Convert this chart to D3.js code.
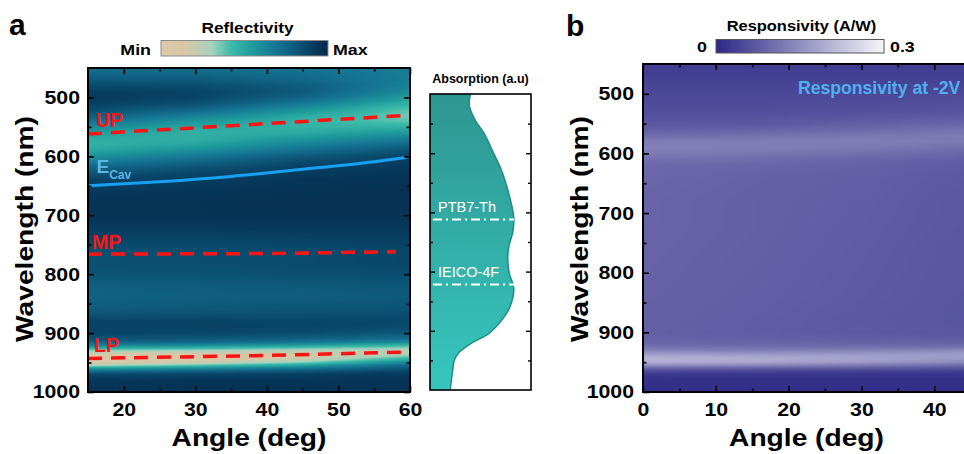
<!DOCTYPE html>
<html><head><meta charset="utf-8">
<script src="https://cdn.jsdelivr.net/npm/d3@7"></script>
<style>body{margin:0;background:#fff}svg{display:block}text{font-family:"Liberation Sans",Arial,sans-serif}</style>
</head><body><svg id="c" width="964" height="454"></svg>
<script>
// ---------------- DATA ----------------
// Panel a: reflectivity map (0 = Min, 1 = Max), rows = wavelength, columns = angle
const anglesA = [15, 30, 45, 60];
const wlA = [450,460,470,480,490,500,510,520,530,540,550,560,570,580,590,600,610,620,630,640,660,680,700,720,740,760,780,800,820,840,860,880,890,900,910,915,920,925,930,935,940,945,950,955,960,965,970,980,1000];
const reflA = [
 [.72,.72,.70,.66],[.75,.75,.72,.66],[.80,.80,.75,.66],[.86,.85,.79,.64],[.90,.88,.80,.60],
 [.92,.88,.76,.54],[.90,.84,.68,.46],[.86,.76,.58,.39],[.80,.66,.50,.35],[.72,.57,.45,.38],
 [.62,.50,.45,.46],[.54,.46,.49,.56],[.48,.47,.56,.66],[.46,.51,.64,.75],[.50,.59,.72,.83],
 [.58,.68,.80,.88],[.67,.76,.86,.91],[.76,.83,.90,.93],[.83,.88,.92,.94],[.88,.91,.94,.95],
 [.93,.94,.95,.96],[.95,.95,.96,.96],[.95,.95,.95,.95],[.92,.92,.93,.93],[.88,.88,.89,.90],
 [.84,.85,.86,.87],[.84,.85,.86,.87],[.82,.83,.84,.85],[.78,.79,.80,.81],[.77,.78,.79,.80],
 [.80,.81,.82,.83],[.88,.88,.88,.87],[.89,.89,.88,.85],[.88,.87,.85,.81],[.83,.81,.77,.71],
 [.77,.75,.70,.61],[.67,.63,.56,.46],[.50,.46,.39,.33],[.32,.29,.25,.26],[.16,.16,.18,.28],
 [.07,.09,.15,.37],[.05,.10,.21,.50],[.11,.20,.35,.63],[.30,.40,.53,.75],[.55,.62,.70,.82],
 [.74,.78,.82,.88],[.86,.88,.90,.92],[.93,.94,.94,.95],[.96,.96,.96,.96]
];
// polariton branches (red dashed) and cavity mode (blue)
const upAngles = [15, 35, 60], upWl = [562, 548, 530];
const mpAngles = [15, 40, 58], mpWl = [766, 765, 762];
const lpAngles = [15, 40, 60], lpWl = [943, 938, 932];
const cavAngles = [15, 25, 35, 45, 55, 59.5], cavWl = [650, 643, 634, 622, 609, 602];

// Absorption side panel
const absWl  = [500, 520, 545, 565, 600, 630, 665, 693, 710, 733, 758, 780, 803, 828, 860, 882, 905, 921, 938, 950, 966, 1000];
const absVal = [0.40,0.39,0.45,0.53,0.63,0.71,0.775,0.815,0.83,0.82,0.78,0.77,0.785,0.83,0.79,0.71,0.58,0.41,0.28,0.24,0.225,0.20];
const absMarkers = [{label:"PTB7-Th", wl:712}, {label:"IEICO-4F", wl:822}];

// Panel b: responsivity (A/W)
const anglesB = [0, 15, 30, 45, 60];
const wlB = [450,470,490,510,530,550,560,570,580,590,600,610,620,640,680,720,760,800,840,880,900,910,920,925,930,935,940,945,950,955,960,965,970,980,1000];
const respB = [
 [.030,.030,.030,.030,.030],[.035,.035,.035,.035,.035],[.045,.045,.045,.045,.045],[.050,.050,.050,.055,.055],
 [.055,.055,.060,.065,.070],[.070,.070,.080,.090,.100],[.080,.085,.095,.110,.115],[.100,.105,.115,.120,.120],
 [.125,.125,.125,.120,.110],[.130,.125,.120,.105,.095],[.120,.115,.105,.090,.080],[.105,.100,.090,.080,.072],
 [.095,.090,.085,.075,.070],[.090,.085,.080,.072,.068],[.088,.083,.078,.070,.065],[.088,.083,.077,.070,.064],
 [.087,.082,.076,.068,.063],[.086,.081,.075,.068,.063],[.085,.080,.074,.067,.062],[.083,.078,.072,.066,.062],
 [.082,.078,.073,.068,.064],[.085,.082,.078,.075,.072],[.095,.092,.090,.090,.095],[.110,.105,.105,.110,.120],
 [.130,.125,.130,.140,.150],[.160,.155,.155,.165,.170],[.190,.180,.175,.170,.165],[.205,.195,.180,.160,.145],
 [.195,.185,.165,.140,.120],[.150,.140,.120,.100,.090],[.090,.085,.075,.065,.060],[.050,.045,.040,.035,.035],
 [.025,.022,.020,.020,.020],[.012,.012,.012,.012,.012],[.010,.010,.010,.010,.010]
];

// ticks
const xTicksA = [20, 30, 40, 50, 60], xMinorA = [25, 35, 45, 55];
const yTicks = [500, 600, 700, 800, 900, 1000], yMinor = [550, 650, 750, 850, 950];
const xTicksB = [0, 10, 20, 30, 40], xMinorB = [5, 15, 25, 35, 45];
const absMajor = [600, 700, 800, 900], absMinor = [550, 650, 750, 850, 950];

// ---------------- DRAW ----------------
const svg = d3.select("#c");
const S = 1.15; // horizontal stretch of axis lettering

const colorA = d3.scaleLinear()
  .domain([0, .15, .3, .42, .55, .68, .8, .9, 1])
  .range(["#dcc9aa","#d6c7a6","#a8d2bc","#3cbaa9","#1e9a9c","#167895","#0e5a7c","#073f62","#03284a"])
  .clamp(true);
const colorB = d3.scaleLinear().domain([0, 0.3]).range(["#2c2886", "#f5f5fa"]).clamp(true);

function interp(grid, xs, ys, x, y) {
  const i = Math.max(0, Math.min(xs.length - 2, d3.bisectRight(xs, x) - 1));
  const j = Math.max(0, Math.min(ys.length - 2, d3.bisectRight(ys, y) - 1));
  const tx = Math.max(0, Math.min(1, (x - xs[i]) / (xs[i+1] - xs[i])));
  const ty = Math.max(0, Math.min(1, (y - ys[j]) / (ys[j+1] - ys[j])));
  const a = grid[j][i] * (1 - tx) + grid[j][i+1] * tx;
  const b = grid[j+1][i] * (1 - tx) + grid[j+1][i+1] * tx;
  return a * (1 - ty) + b * ty;
}

function heat(xs, ys, grid, xS, yS, color, x0, x1, y0, y1) {
  const w = Math.round(x1 - x0), h = Math.round(y1 - y0);
  const cv = document.createElement("canvas"); cv.width = w; cv.height = h;
  const ctx = cv.getContext("2d"); const img = ctx.createImageData(w, h);
  const cache = new Map();
  for (let py = 0; py < h; py++) {
    const wl = yS.invert(y0 + py + 0.5);
    for (let px = 0; px < w; px++) {
      const ang = xS.invert(x0 + px + 0.5);
      const v = interp(grid, xs, ys, ang, wl);
      const key = Math.round(v * 2000);
      let c = cache.get(key);
      if (!c) { c = d3.rgb(color(key / 2000)); cache.set(key, c); }
      const k = (py * w + px) * 4;
      img.data[k] = c.r; img.data[k+1] = c.g; img.data[k+2] = c.b; img.data[k+3] = 255;
    }
  }
  ctx.putImageData(img, 0, 0);
  svg.append("image").attr("x", x0).attr("y", y0).attr("width", w).attr("height", h)
    .attr("preserveAspectRatio", "none").attr("href", cv.toDataURL());
}

function axes(x, y, xMaj, xMin, yMaj, yMin, labelGapLeft) {
  const [X0, X1] = x.range(), [Y0, Y1] = y.range();
  const g = svg.append("g");
  const add = (ax, t) => g.append("g").attr("transform", t).call(ax);
  const b1 = add(d3.axisBottom(x).tickValues(xMaj).tickSize(-6).tickPadding(11).tickFormat(d3.format("d")), `translate(0,${Y1})`);
  add(d3.axisBottom(x).tickValues(xMin).tickSize(-3.5).tickFormat(""), `translate(0,${Y1})`);
  add(d3.axisTop(x).tickValues(xMaj).tickSize(-6).tickFormat(""), `translate(0,${Y0})`);
  add(d3.axisTop(x).tickValues(xMin).tickSize(-3.5).tickFormat(""), `translate(0,${Y0})`);
  const l1 = add(d3.axisLeft(y).tickValues(yMaj).tickSize(-6).tickFormat(d3.format("d")), `translate(${X0},0)`);
  add(d3.axisLeft(y).tickValues(yMin).tickSize(-3.5).tickFormat(""), `translate(${X0},0)`);
  add(d3.axisRight(y).tickValues(yMaj).tickSize(-6).tickFormat(""), `translate(${X1},0)`);
  add(d3.axisRight(y).tickValues(yMin).tickSize(-3.5).tickFormat(""), `translate(${X1},0)`);
  g.selectAll(".domain").remove();
  g.selectAll(".tick line").attr("stroke", "#000").attr("stroke-width", 1.6);
  g.selectAll(".tick text").filter(function(){ return !this.textContent; }).remove();
  g.selectAll(".tick text").attr("font-size", 18.5).attr("font-weight", "bold").attr("fill", "#000")
    .attr("font-family", '"Liberation Sans",Arial,sans-serif');
  b1.selectAll("text").attr("transform", `scale(${S},1)`);
  l1.selectAll("text").attr("x", 0).attr("transform", `translate(${-labelGapLeft},0) scale(${S},1)`);
  g.append("rect").attr("x", X0).attr("y", Y0).attr("width", X1 - X0).attr("height", Y1 - Y0)
    .attr("fill", "none").attr("stroke", "#000").attr("stroke-width", 2);
}

function stretchedText(x, y, str, size, anchor, rot) {
  svg.append("text").attr("transform", `translate(${x},${y})${rot ? " rotate(-90)" : ""} scale(${S},1)`)
    .attr("text-anchor", anchor).attr("font-size", size).attr("font-weight", "bold").attr("fill", "#000").text(str);
}

function colorbar(id, x0, y0, w, h, color, d0, d1, stroke) {
  const grad = svg.append("defs").append("linearGradient").attr("id", id);
  d3.range(0, 1.0001, 0.02).forEach(t =>
    grad.append("stop").attr("offset", t).attr("stop-color", color(d0 + (d1 - d0) * t)));
  svg.append("rect").attr("x", x0).attr("y", y0).attr("width", w).attr("height", h)
    .attr("fill", `url(#${id})`).attr("stroke", stroke).attr("stroke-width", 1);
}

// ===== Panel a =====
const xA = d3.scaleLinear().domain([15, 60]).range([88, 410]);
const yA = d3.scaleLinear().domain([450, 1000]).range([68, 392]);
heat(anglesA, wlA, reflA, xA, yA, colorA, 88, 410, 68, 392);

const lineA = d3.line().x(d => xA(d[0])).y(d => yA(d[1]));
const dashed = (angs, wls) => svg.append("path").datum(d3.zip(angs, wls)).attr("d", lineA)
  .attr("fill", "none").attr("stroke", "#ff1414").attr("stroke-width", 3.5).attr("stroke-dasharray", "14,9");
dashed(upAngles, upWl); dashed(mpAngles, mpWl); dashed(lpAngles, lpWl);
svg.append("path").datum(d3.zip(cavAngles, cavWl)).attr("d", lineA.curve(d3.curveMonotoneX))
  .attr("fill", "none").attr("stroke", "#18a0f2").attr("stroke-width", 3);

const redLab = (x, y, s) => svg.append("text").attr("x", x).attr("y", y).attr("font-size", 19.5)
  .attr("font-weight", "bold").attr("fill", "#ff1414").text(s);
redLab(96, 127, "UP"); redLab(92, 248.5, "MP"); redLab(94, 352, "LP");
const ec = svg.append("text").attr("x", 96.5).attr("y", 173).attr("fill", "#5db6ea").attr("font-weight", "bold");
ec.append("tspan").attr("font-size", 19).text("E");
ec.append("tspan").attr("font-size", 12).attr("dy", 6).text("Cav");

axes(xA, yA, xTicksA, xMinorA, yTicks, yMinor, 8);
stretchedText(249, 446, "Angle (deg)", 24.5, "middle", false);
stretchedText(33, 229, "Wavelength (nm)", 24.5, "middle", true);
svg.append("text").attr("x", 9).attr("y", 35).attr("font-size", 30).attr("font-weight", "bold").text("a");

// colorbar a
colorbar("cbA", 161, 40.5, 167, 15.5, colorA, 0, 1, "#8a8a8a");
stretchedText(247.5, 33.3, "Reflectivity", 15, "middle", false);
stretchedText(151, 54.5, "Min", 15.5, "end", false);
stretchedText(333, 54.5, "Max", 15.5, "start", false);

// ===== Absorption panel =====
const xAbs = d3.scaleLinear().domain([0, 1]).range([430, 531]);
const yAbs = d3.scaleLinear().domain([500, 1000]).range([94, 390]);
const ag = svg.append("defs").append("linearGradient").attr("id", "absG").attr("x1", 0).attr("x2", 0).attr("y1", 0).attr("y2", 1);
ag.append("stop").attr("offset", 0).attr("stop-color", "#2e9690");
ag.append("stop").attr("offset", 1).attr("stop-color", "#36c6be");
const absData = d3.zip(absWl, absVal);
svg.append("path").datum(absData)
  .attr("d", d3.area().curve(d3.curveCatmullRom).y(d => yAbs(d[0])).x0(xAbs(0)).x1(d => xAbs(d[1])))
  .attr("fill", "url(#absG)");
svg.append("path").datum(absData)
  .attr("d", d3.line().curve(d3.curveCatmullRom).y(d => yAbs(d[0])).x(d => xAbs(d[1])))
  .attr("fill", "none").attr("stroke", "#1d8c86").attr("stroke-width", 1.5);
absMarkers.forEach(m => {
  svg.append("line").attr("x1", 433).attr("x2", 514).attr("y1", yAbs(m.wl)).attr("y2", yAbs(m.wl))
    .attr("stroke", "#fff").attr("stroke-width", 2).attr("stroke-dasharray", "9,4,2,4");
  svg.append("text").attr("x", 438).attr("y", yAbs(m.wl) - 7.5).attr("font-family", '"Open Sans",sans-serif')
    .attr("font-size", 14.5).attr("fill", "#fff").text(m.label);
});
{
  const g = svg.append("g");
  g.append("g").attr("transform", "translate(430,0)").call(d3.axisLeft(yAbs).tickValues(absMajor).tickSize(-5).tickFormat(""));
  g.append("g").attr("transform", "translate(430,0)").call(d3.axisLeft(yAbs).tickValues(absMinor).tickSize(-3).tickFormat(""));
  g.append("g").attr("transform", "translate(531,0)").call(d3.axisRight(yAbs).tickValues(absMajor).tickSize(-5).tickFormat(""));
  g.append("g").attr("transform", "translate(531,0)").call(d3.axisRight(yAbs).tickValues(absMinor).tickSize(-3).tickFormat(""));
  g.selectAll(".domain").remove();
  g.selectAll(".tick text").remove();
  g.selectAll(".tick line").attr("stroke", "#000").attr("stroke-width", 1.4);
  g.append("rect").attr("x", 430).attr("y", 94).attr("width", 101).attr("height", 296)
    .attr("fill", "none").attr("stroke", "#000").attr("stroke-width", 1.6);
}
svg.append("text").attr("x", 480.5).attr("y", 83).attr("text-anchor", "middle").attr("font-family", '"Open Sans",sans-serif')
  .attr("font-weight", "bold").attr("font-size", 12.5).text("Absorption (a.u)");

// ===== Panel b =====
const xB = d3.scaleLinear().domain([0, 60]).range([643, 643 + 6 * 72.8]);
const yB = d3.scaleLinear().domain([450, 1000]).range([64, 392]);
heat(anglesB, wlB, respB, xB, yB, colorB, 643, 964, 64, 392);
axes(xB, yB, xTicksB, xMinorB, yTicks, yMinor, 9);
svg.append("text").attr("x", 798).attr("y", 93.5).attr("font-size", 17.6).attr("font-weight", "bold")
  .attr("fill", "#4fb0f0").text("Responsivity at -2V");
stretchedText(806.5, 446, "Angle (deg)", 24.5, "middle", false);
stretchedText(588, 229, "Wavelength (nm)", 24.5, "middle", true);
svg.append("text").attr("x", 566).attr("y", 36).attr("font-size", 30).attr("font-weight", "bold").text("b");

colorbar("cbB", 716, 39.5, 168, 13.5, colorB, 0, 0.3, "#555");
stretchedText(801.5, 31, "Responsivity (A/W)", 14.3, "middle", false);
stretchedText(702, 52, "0", 15.5, "middle", false);
stretchedText(890, 52, "0.3", 15.5, "start", false);
</script></body></html>
